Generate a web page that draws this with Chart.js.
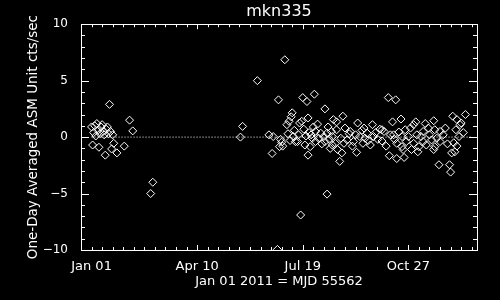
<!DOCTYPE html>
<html>
<head>
<meta charset="utf-8">
<script src="https://cdn.jsdelivr.net/npm/chart.js@4/dist/chart.umd.min.js"></script>
<style>
  body { margin: 0; background: #000; }
  canvas { display: block; }
</style>
</head>
<body>
<canvas id="grafico" width="500" height="300"></canvas>
<script>
// dados: dia desde Jan 01 2011 (MJD 55562) e taxa ASM (cts/sec)
const dias = [
  0, 1, 2, 3, 4, 5, 6, 7, 8, 9, 10, 11, 12, 13, 14, 15, 16, 17, 18, 19, 20, 21, 24, 31, 36, 39, 56, 58,
  141, 143, 157,
  168, 171, 172, 176, 177, 178, 179, 180, 181, 183, 185, 186, 187, 188, 189, 190, 191, 192, 193, 195,
  196, 197, 198, 199, 200, 201, 202, 203, 204, 205, 205, 206, 207, 208, 209, 210, 211, 212, 212, 214,
  215, 217, 218, 220, 221, 221, 223, 223, 224, 225, 226, 227, 228, 228, 229, 231, 232, 232, 233, 235,
  236, 237, 238, 239, 240, 242, 244, 245, 247, 248, 250, 251, 252, 254, 256, 257, 258, 259, 261, 262,
  264, 266, 267, 269, 271, 273, 275, 275, 277, 279, 281, 282, 283, 285, 286, 287, 288, 289, 289, 291,
  293, 294, 294, 295, 296, 297, 298, 300, 302, 303, 305, 305, 307, 308, 309, 310, 312, 314, 314, 316,
  317, 319, 320, 322, 324, 324, 325, 325, 327, 329, 330, 330, 333, 335, 337, 339, 340, 341, 342, 343,
  344, 345, 346, 346, 348, 349, 350, 352, 354
];
const taxas = [
  0.9, -0.7, 0.4, 1.0, 0.1, 1.2, 0.6, -0.9, 0.3, 0.9, 1.1, 0.5, 0.2, -1.6, 0.7, 0.9, 0.3, 2.9, 0.5, -1.05, 0.2, -0.55, -1.4, -0.8, 1.5, 0.55, -5.0, -4.0,
  0.0, 0.95, 5.0,
  0.2, -1.45, 0.05, -9.95, 3.3, -0.85, -0.2, -0.45, -0.8, 6.85, 1.1, 0.3, 1.4, -0.3, 1.8, 2.15, 0.05, 0.6, -0.4, -0.4,
  0.2, 1.25, -6.9, 1.4, 3.5, 0.7, -0.7, 0.1, 3.15, 1.7, -1.6, 0.4, -0.85, 0.2, -0.1, 0.9, 3.8, 0.5, -0.4, 1.15,
  -0.1, 0.35, -0.6, 0.05, 2.5, -0.4, -5.05, 0.35, 0.9, -0.2, -1.0, 0.5, 0.05, -0.7, 1.55, -0.55, 1.35, 0.65, -1.1, -2.15,
  -0.1, -1.4, 1.85, -0.55, 0.8, -0.25, 0.3, 0.5, -0.8, -0.4, 0.2, -1.35, 1.25, 0.05, 0.6, -0.55, 0.8, -0.1, 0.35, -0.3,
  -0.7, 1.1, 0.05, 0.4, -0.2, 0.7, 0.65, -0.35, 0.5, -0.8, 3.5, -1.65, 0.2, 1.35, 0.2, -0.2, 3.3, -0.55, -1.9, 0.45,
  1.6, 0.05, -0.85, -1.1, -1.8, 0.65, -0.4, 0.05, 0.8, -1.1, 1.1, -0.55, 1.35, 0.2, -1.3, -0.85, 0.05, 0.5, -0.4, 1.2,
  -0.7, 0.8, 0.2, -0.25, 1.45, -1.1, 0.65, -0.85, -0.1, -2.45, 0.5, -0.4, 0.2, 0.8, -0.6, -2.45, -3.1, -1.4, 1.85, -0.5,
  -1.3, 0.65, 1.55, -0.8, 0.05, 1.1, 1.25, 0.4, 2.0
];

// eixos
const xTickDias = [0, 100, 200, 300];
const xTickLabels = ['Jan 01', 'Apr 10', 'Jul 19', 'Oct 27'];
const yTickValores = [-10, -5, 0, 5, 10];
const yTickLabels = ['\u221210', '\u22125', '0', '5', '10'];
const linhaZero = [{ x: 0, y: 0 }, { x: 360, y: 0 }];

const pontos = dias.map((d, i) => ({ x: d, y: taxas[i] }));

// moldura e marcas de escala para dentro (estilo IDL)
const moldura = {
  id: 'moldura',
  beforeDraw(chart) {
    const c = chart.ctx;
    c.save();
    c.fillStyle = '#000';
    c.fillRect(0, 0, chart.width, chart.height);
    c.restore();
  },
  afterDraw(chart) {
    const c = chart.ctx;
    const a = chart.chartArea;
    const sx = chart.scales.x, sy = chart.scales.y;
    c.save();
    c.strokeStyle = '#fff';
    c.lineWidth = 1;
    c.strokeRect(Math.round(a.left) + 0.5, Math.round(a.top) + 0.5,
      Math.round(a.right - a.left), Math.round(a.bottom - a.top));
    c.beginPath();
    for (let d = 0; d <= 360; d += 10) {
      const px = Math.round(sx.getPixelForValue(d)) + 0.5;
      const len = d % 100 === 0 && d > 0 ? 5 : 3;
      c.moveTo(px, a.bottom); c.lineTo(px, a.bottom - len);
      c.moveTo(px, a.top); c.lineTo(px, a.top + len);
    }
    for (let v = -10; v <= 10; v += 1) {
      const py = Math.round(sy.getPixelForValue(v)) + 0.5;
      const len = v % 5 === 0 ? 8 : 4;
      c.moveTo(a.left, py); c.lineTo(a.left + len, py);
      c.moveTo(a.right, py); c.lineTo(a.right - len, py);
    }
    c.stroke();
    c.restore();
  }
};

const ctx = document.getElementById('grafico').getContext('2d');
const grafico = new Chart(ctx, {
  type: 'scatter',
  data: {
    datasets: [
      {
        label: 'mkn335',
        data: pontos,
        pointStyle: 'rectRot',
        pointRadius: 4,
        pointBorderWidth: 1,
        pointBorderColor: '#fff',
        pointBackgroundColor: 'rgba(0,0,0,0)'
      },
      {
        type: 'line',
        label: 'zero',
        data: linhaZero,
        borderColor: '#fff',
        borderWidth: 1,
        borderDash: [1, 2],
        pointRadius: 0
      }
    ]
  },
  options: {
    responsive: false,
    animation: false,
    layout: { padding: { left: 0, right: 23, top: 0, bottom: 0 } },
    plugins: {
      legend: { display: false },
      tooltip: { enabled: false },
      title: {
        display: true,
        text: 'mkn335',
        color: '#fff',
        fullSize: false,
        font: { family: 'DejaVu Sans', size: 16, weight: 'normal' },
        padding: { top: 2, bottom: 3 }
      }
    },
    scales: {
      x: {
        type: 'linear',
        min: -10,
        max: 365,
        grid: { display: false },
        border: { display: false },
        afterBuildTicks: s => { s.ticks = xTickDias.map(v => ({ value: v })); },
        afterFit: s => { s.height = 50; },
        ticks: {
          color: '#fff',
          autoSkip: false,
          maxRotation: 0,
          padding: 1,
          font: { family: 'DejaVu Sans', size: 13 },
          callback: (v) => xTickLabels[xTickDias.indexOf(v)]
        },
        title: {
          display: true,
          text: 'Jan 01 2011 = MJD 55562',
          color: '#fff',
          font: { family: 'DejaVu Sans', size: 13 },
          padding: { top: 0, bottom: 11 }
        }
      },
      y: {
        min: -10,
        max: 10,
        grid: { display: false },
        border: { display: false },
        afterBuildTicks: s => { s.ticks = yTickValores.map(v => ({ value: v })); },
        afterFit: s => { s.width = 81; },
        ticks: {
          color: '#fff',
          padding: 5,
          font: { family: 'DejaVu Sans', size: 12 },
          callback: (v) => yTickLabels[yTickValores.indexOf(v)]
        },
        title: {
          display: true,
          text: 'One-Day Averaged ASM Unit cts/sec',
          color: '#fff',
          font: { family: 'DejaVu Sans', size: 13.5 },
          padding: { top: 25, bottom: 0 }
        }
      }
    }
  },
  plugins: [moldura]
});
</script>
</body>
</html>
